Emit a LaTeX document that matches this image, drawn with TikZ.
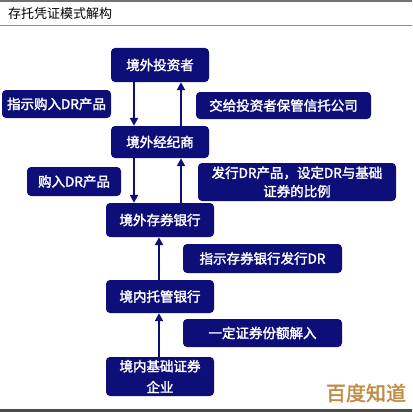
\documentclass[tikz,border=0pt]{standalone}
\usepackage{fontspec}
\usetikzlibrary{arrows.meta}
\newfontfamily\cjk{Noto Sans CJK SC}
\newfontfamily\cjkb{Noto Sans CJK SC}[FakeBold=2]
\definecolor{navy}{RGB}{14,14,120}
\definecolor{wmark}{RGB}{192,140,70}
\tikzset{
  box/.style={draw=none, fill=navy, rounded corners=4pt, text=white, font=\cjkb\fontsize{13.5}{16}\selectfont, align=center, inner sep=0pt},
  arr/.style={draw=navy, line width=2pt, -{Triangle[width=8pt,length=8pt]}},
}
\begin{document}
\begin{tikzpicture}[x=1pt,y=-1pt]
\useasboundingbox (0,0) rectangle (412,412);
\fill[white] (0,0) rectangle (412,412);
\draw[line width=2pt, draw=black!55] (0,1) -- (412,1);
\draw[line width=1.5pt, draw=black!45] (0,25.5) -- (412,25.5);
\draw[line width=3pt, draw=black!70] (0,410.5) -- (412,410.5);
\node[anchor=west, font=\cjk\fontsize{13}{15}\selectfont, inner sep=0pt] (title) at (8,14) {存托凭证模式解构};
% main boxes
\node[box, minimum width=98pt, minimum height=34pt] (inv) at (160,65) {境外投资者};
\node[box, minimum width=98pt, minimum height=32pt] (brk) at (160,142) {境外经纪商};
\node[box, minimum width=108pt, minimum height=34pt] (dep) at (160,220) {境外存券银行};
\node[box, minimum width=108pt, minimum height=33pt] (cus) at (160,296.5) {境内托管银行};
\node[box, minimum width=108pt, minimum height=39pt, font=\cjkb\fontsize{13.5}{21}\selectfont] (ent) at (160,376.5) {境内基础证券\\企业};
% labels
\node[box, minimum width=109pt, minimum height=28pt] (l1) at (56.5,104) {指示购入DR产品};
\node[box, minimum width=175pt, minimum height=27pt] (l2) at (283.5,105.5) {交给投资者保管信托公司};
\node[box, minimum width=94pt, minimum height=29pt] (l3) at (74,181.5) {购入DR产品};
\node[box, minimum width=198pt, minimum height=38pt, font=\cjkb\fontsize{13.5}{18.5}\selectfont] (l4) at (297,182) {发行DR产品，设定DR与基础\\证券的比例};
\node[box, minimum width=159pt, minimum height=29pt] (l5) at (262.5,258.5) {指示存券银行发行DR};
\node[box, minimum width=159pt, minimum height=28pt] (l6) at (262.5,333) {一定证券份额解入};
% arrows
\draw[arr] ([xshift=-26pt]inv.south) -- ([xshift=-26pt]brk.north);
\draw[arr] ([xshift=21pt]brk.north) -- ([xshift=21pt]inv.south);
\draw[arr] ([xshift=-26pt]brk.south) -- ([xshift=-26pt]dep.north);
\draw[arr] ([xshift=21pt]dep.north) -- ([xshift=21pt]brk.south);
\draw[arr] ([xshift=-1pt]cus.north) -- ([xshift=-1pt]dep.south);
\draw[arr] ([xshift=-1pt]ent.north) -- ([xshift=-1pt]cus.south);
% watermark
\node[anchor=center, text=wmark, font=\cjkb\fontsize{20}{22}\selectfont, inner sep=0pt] (wm) at (366,393) {百度知道};
\end{tikzpicture}
\end{document}
